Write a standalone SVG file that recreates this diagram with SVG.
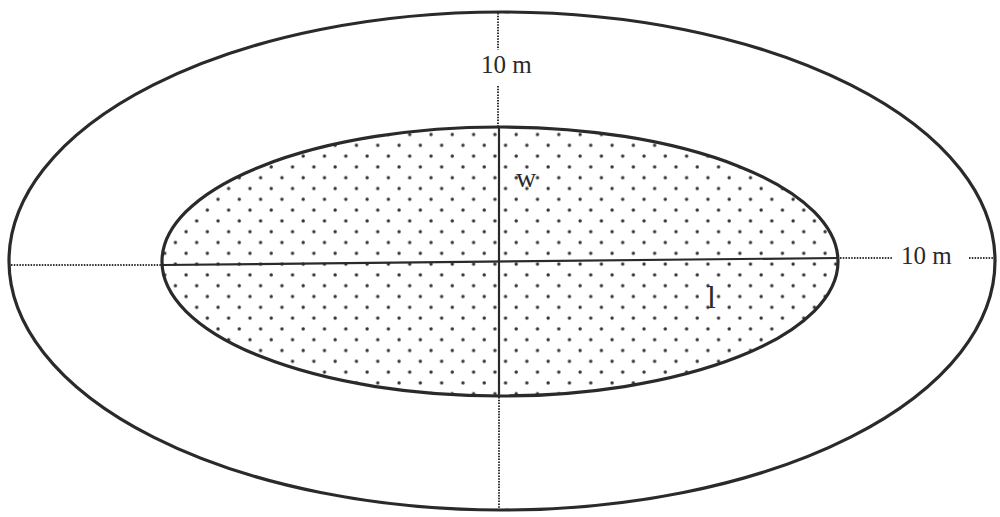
<svg xmlns="http://www.w3.org/2000/svg" width="1000" height="517" viewBox="0 0 1000 517">
<style>
.outline{fill:none;stroke:#2a2a2a;stroke-width:3.2}
.solid{stroke:#2a2a2a;stroke-width:2.2;fill:none}
.dotted{stroke:#333;stroke-width:2;stroke-dasharray:1.5 1.3;fill:none}
.lbl{font-family:"Liberation Serif","DejaVu Serif",serif;fill:#2a2a2a}
</style>
<defs>
<pattern id="dots" x="0" y="0" width="21.3" height="21.6" patternUnits="userSpaceOnUse">
<circle cx="5" cy="5" r="1.7" fill="#333"/>
<circle cx="15.65" cy="15.8" r="1.7" fill="#333"/>
</pattern>
</defs>
<rect width="1000" height="517" fill="#fff"/>
<g id="outer-ellipse">
<ellipse cx="502" cy="261" rx="493" ry="249" class="outline"/>
</g>
<g id="inner-ellipse">
<ellipse cx="500" cy="261.5" rx="338" ry="134.5" fill="url(#dots)"/>
<ellipse cx="500" cy="261.5" rx="338" ry="134.5" class="outline"/>
</g>
<g id="connectors">
<line x1="498" y1="13" x2="498" y2="50" class="dotted"/>
<line x1="498" y1="86" x2="498" y2="126" class="dotted"/>
<line x1="499" y1="127" x2="499" y2="396" class="solid"/>
<line x1="499" y1="397" x2="499" y2="510" class="dotted"/>
<line x1="11" y1="265" x2="162" y2="265" class="dotted"/>
<line x1="162" y1="265" x2="838" y2="258" class="solid"/>
<line x1="840" y1="258" x2="893" y2="258" class="dotted"/>
<line x1="969" y1="258" x2="994" y2="258" class="dotted"/>
</g>
<g id="labels">
<text x="481" y="73" class="lbl" font-size="25">10 m</text>
<text x="901" y="264" class="lbl" font-size="25">10 m</text>
<text x="516" y="187" class="lbl" font-size="28">w</text>
<text x="707" y="308" class="lbl" font-size="32">l</text>
</g>
</svg>
